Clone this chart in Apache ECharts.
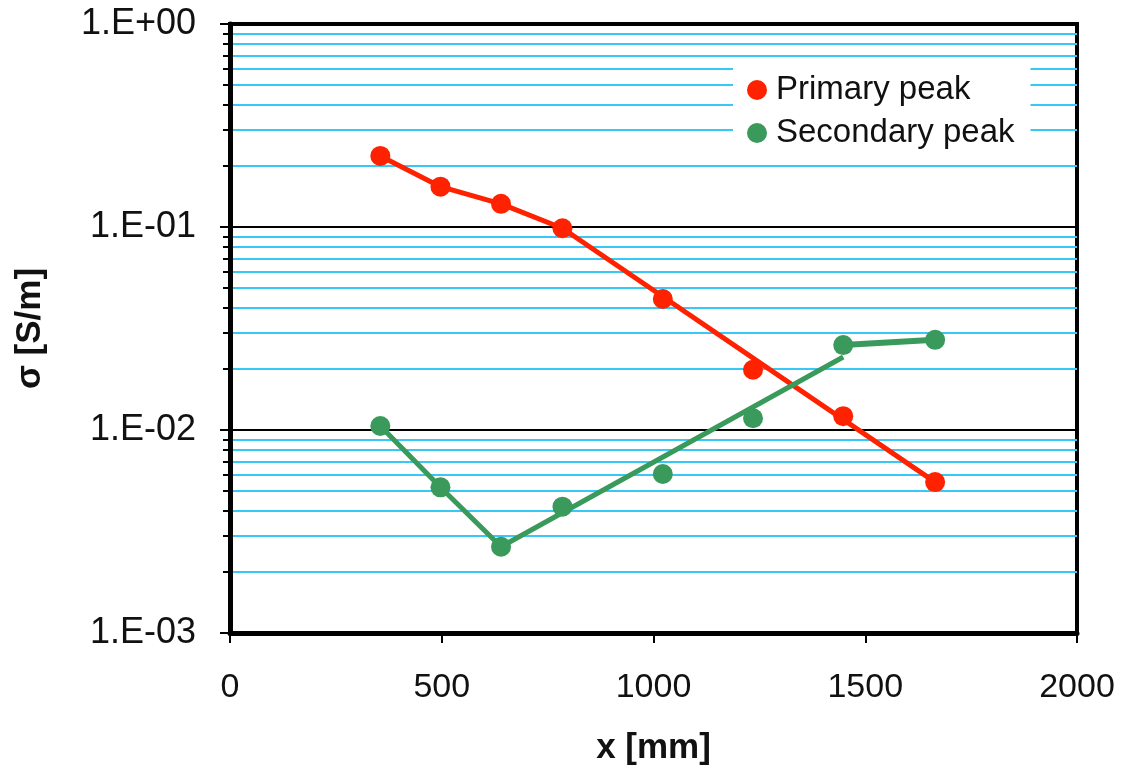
<!DOCTYPE html>
<html>
<head>
<meta charset="utf-8">
<script src="https://cdn.jsdelivr.net/npm/echarts@6/dist/echarts.min.js"></script>
<style>html,body{margin:0;padding:0;background:#fff;}#c{width:1123px;height:778px;}</style>
</head>
<body>
<div id="c"></div>
<script>
// x positions [mm]
const xPos = [355, 497, 640, 785, 1022, 1235, 1448, 1665];
// sigma [S/m]
const primaryPeak = [0.224, 0.158, 0.130, 0.0986, 0.0442, 0.0198, 0.0117, 0.00554];
const secondaryPeak = [0.01047, 0.00522, 0.00266, 0.00419, 0.00607, 0.01142, 0.0262, 0.0278];
// trend lines drawn on the original chart
const primaryLineX = [355, 497, 640, 785, 1665];
const primaryLineY = [0.224, 0.158, 0.130, 0.0986, 0.00554];
const secondaryLine1X = [355, 497, 640, 1448];
const secondaryLine1Y = [0.01047, 0.00522, 0.00266, 0.0229];
const secondaryLine2X = [1448, 1665];
const secondaryLine2Y = [0.0262, 0.0278];
const xTicks = [0, 500, 1000, 1500, 2000];
const yMajor = [0.001, 0.01, 0.1, 1];
const yMinor = [0.002,0.003,0.004,0.005,0.006,0.007,0.008,0.009,
                0.02,0.03,0.04,0.05,0.06,0.07,0.08,0.09,
                0.2,0.3,0.4,0.5,0.6,0.7,0.8,0.9];

const RED = '#ff2200', GREEN = '#3a9a5c', BLUE = '#38c8f6';
const zip = (a, b) => a.map((v, i) => [v, b[i]]);
const fmt = v => {
  const e = Math.round(Math.log10(v));
  const s = e < 0 ? '-' : '+';
  const a = Math.abs(e);
  return '1.E' + s + (a < 10 ? '0' : '') + a;
};

const chart = echarts.init(document.getElementById('c'), null, {renderer: 'canvas'});
chart.setOption({
  animation: false,
  backgroundColor: '#fff',
  textStyle: {fontFamily: 'Liberation Sans, Arial, sans-serif'},
  grid: {left: 230, right: 46, top: 24, bottom: 145, show: true, borderColor: '#000', borderWidth: 4, backgroundColor: 'transparent'},
  legend: {
    data: ['Primary peak', 'Secondary peak'],
    orient: 'vertical',
    left: 733, top: 62,
    backgroundColor: '#fff',
    padding: [10, 16, 9, 14],
    itemWidth: 20, itemHeight: 20, itemGap: 7,
    icon: 'circle',
    textStyle: {fontSize: 33, color: '#111', fontFamily: 'Liberation Sans, Arial, sans-serif', lineHeight: 36, padding: [0, 0, 0, 4]}
  },
  xAxis: {
    type: 'value', min: 0, max: 2000, interval: 500,
    name: 'x [mm]', nameLocation: 'middle', nameGap: 98,
    nameTextStyle: {fontSize: 35, fontWeight: 'bold', color: '#111'},
    axisLine: {show: true, lineStyle: {color: '#000', width: 5}},
    axisTick: {show: true, length: 10, lineStyle: {color: '#000', width: 2}},
    axisLabel: {fontSize: 34, color: '#111', margin: 38, formatter: v => String(v)},
    splitLine: {show: false}
  },
  yAxis: [{
    type: 'log', min: 0.001, max: 1, logBase: 10,
    name: 'σ [S/m]', nameLocation: 'middle', nameGap: 182, nameRotate: 90,
    nameTextStyle: {fontSize: 35, fontWeight: 'bold', color: '#111'},
    axisLine: {show: true, lineStyle: {color: '#000', width: 5}},
    axisTick: {show: true, length: 10, lineStyle: {color: '#000', width: 2}, customValues: yMajor},
    axisLabel: {fontSize: 36, color: '#111', margin: 34, formatter: fmt, customValues: yMajor},
    splitLine: {show: true, lineStyle: {color: '#000', width: 2}},
    z: 3
  }, {
    type: 'log', min: 0.001, max: 1, logBase: 10, position: 'left',
    axisLine: {show: false},
    axisTick: {show: true, length: 7, lineStyle: {color: '#000', width: 2}, customValues: yMinor},
    axisLabel: {show: false},
    splitLine: {show: true, lineStyle: {color: BLUE, width: 2}},
    z: 1
  }],
  series: [
    {name: 'Primary fit', type: 'line', data: zip(primaryLineX, primaryLineY), showSymbol: false, symbol: 'none',
     lineStyle: {color: RED, width: 5}, itemStyle: {color: RED}, z: 4, silent: true},
    {name: 'Secondary fit 1', type: 'line', data: zip(secondaryLine1X, secondaryLine1Y), showSymbol: false, symbol: 'none',
     lineStyle: {color: GREEN, width: 5}, itemStyle: {color: GREEN}, z: 4, silent: true},
    {name: 'Secondary fit 2', type: 'line', data: zip(secondaryLine2X, secondaryLine2Y), showSymbol: false, symbol: 'none',
     lineStyle: {color: GREEN, width: 6}, itemStyle: {color: GREEN}, z: 4, silent: true},
    {name: 'Primary peak', type: 'scatter', data: zip(xPos, primaryPeak), symbol: 'circle', symbolSize: 20,
     itemStyle: {color: RED, opacity: 1}, z: 5},
    {name: 'Secondary peak', type: 'scatter', data: zip(xPos, secondaryPeak), symbol: 'circle', symbolSize: 20,
     itemStyle: {color: GREEN, opacity: 1}, z: 5}
  ]
});
</script>
</body>
</html>
